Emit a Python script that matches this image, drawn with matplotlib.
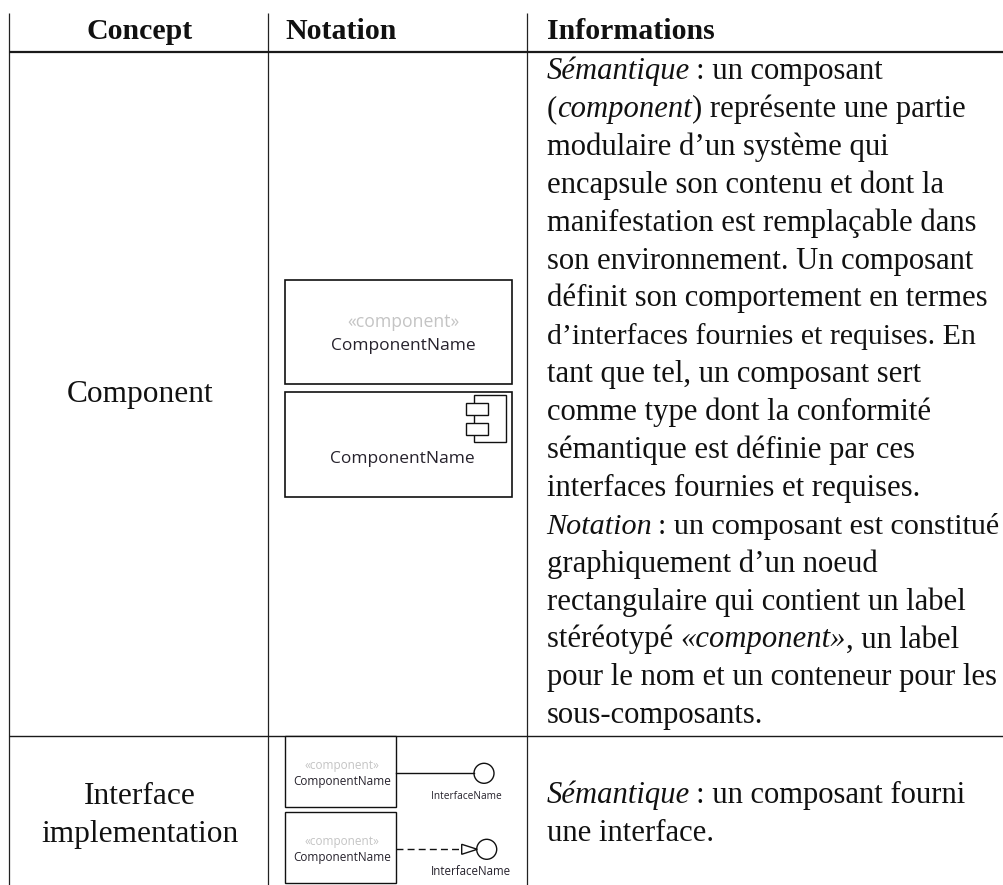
#!/usr/bin/env python3
# Table of UML concepts: concept name, notation sketch, description.

import matplotlib
matplotlib.use("Agg")
import matplotlib.pyplot as plt
from matplotlib.patches import Circle, Polygon, Rectangle

WIDTH = 1004
HEIGHT = 885
SERIF = "Liberation Serif"
SANS = "Open Sans"
BODY_SIZE = 22.1
HEADER_SIZE = 21.5
CONCEPT_SIZE = 22.6
# a few lines run wider than in the original font, so they get a smaller size
LINE_SIZE_FIX = {7: 21.5, 12: 21.7}

# -----------------------------------------------------------------------------
# Table content
# -----------------------------------------------------------------------------

HEADERS = ["Concept", "Notation", "Informations"]
CONCEPTS = ["Component", "Interface", "implementation"]
STEREOTYPE = "«component»"
COMPONENT_NAME = "ComponentName"
INTERFACE_NAME = "InterfaceName"

# each line is a list of (text, is_italic) runs
ROW1_LINES = [
    [("Sémantique", True), ("\u2009: un composant", False)],
    [("(", False), ("component", True), (") représente une partie", False)],
    [("modulaire d’un système qui", False)],
    [("encapsule son contenu et dont la", False)],
    [("manifestation est remplaçable dans", False)],
    [("son environnement. Un composant", False)],
    [("définit son comportement en termes", False)],
    [("d’interfaces fournies et requises. En", False)],
    [("tant que tel, un composant sert", False)],
    [("comme type dont la conformité", False)],
    [("sémantique est définie par ces", False)],
    [("interfaces fournies et requises.", False)],
    [("Notation", True), ("\u2009: un composant est constitué", False)],
    [("graphiquement d’un noeud", False)],
    [("rectangulaire qui contient un label", False)],
    [("stéréotypé ", False), ("«component»", True), (", un label", False)],
    [("pour le nom et un conteneur pour les", False)],
    [("sous-composants.", False)],
]
ROW2_LINES = [
    [("Sémantique", True), ("\u2009: un composant fourni", False)],
    [("une interface.", False)],
]


def draw_runs(ax, fig, x, y, runs, size=BODY_SIZE):
    renderer = fig.canvas.get_renderer()
    for text, is_italic in runs:
        t = ax.text(x, y, text, family=SERIF, fontsize=size, color="#111111",
                    style="italic" if is_italic else "normal", va="baseline", ha="left")
        x += t.get_window_extent(renderer).width


def draw_box(ax, x0, y0, x1, y1, lw=1.2, zorder=2):
    ax.add_patch(Rectangle((x0, y0), x1 - x0, y1 - y0, fill=True, facecolor="white",
                           edgecolor="#111111", linewidth=lw, zorder=zorder))


def draw_component_text(ax, cx, y_st, y_name, size_st, size_name):
    ax.text(cx, y_st, STEREOTYPE, family=SANS, fontsize=size_st, color="#c4c4c4",
            ha="center", va="center", zorder=3)
    ax.text(cx, y_name, COMPONENT_NAME, family=SANS, fontsize=size_name, color="#26222c",
            ha="center", va="center", zorder=3)


def main():
    fig = plt.figure(figsize=(WIDTH / 100, HEIGHT / 100), dpi=100)
    ax = fig.add_axes([0, 0, 1, 1])
    ax.set_xlim(0, WIDTH)
    ax.set_ylim(HEIGHT, 0)
    ax.axis("off")

    # table rules
    for x in [9.5, 268.5, 527]:
        ax.plot([x, x], [13, HEIGHT], color="#222222", lw=0.9, solid_capstyle="butt")
    ax.plot([9, WIDTH], [51.5, 51.5], color="#1a1a1a", lw=1.6, solid_capstyle="butt")
    ax.plot([9, WIDTH], [736, 736], color="#1a1a1a", lw=1.0, solid_capstyle="butt")

    # header
    ax.text(139.5, 38.7, HEADERS[0], family=SERIF, weight="bold", fontsize=HEADER_SIZE,
            ha="center", va="baseline", color="#111111")
    ax.text(285.7, 38.7, HEADERS[1], family=SERIF, weight="bold", fontsize=HEADER_SIZE,
            ha="left", va="baseline", color="#111111")
    ax.text(546.7, 38.7, HEADERS[2], family=SERIF, weight="bold", fontsize=HEADER_SIZE,
            ha="left", va="baseline", color="#111111")

    # first column
    ax.text(139.7, 401.7, CONCEPTS[0], family=SERIF, fontsize=CONCEPT_SIZE, ha="center",
            va="baseline", color="#111111")
    ax.text(139.7, 804, CONCEPTS[1], family=SERIF, fontsize=CONCEPT_SIZE, ha="center",
            va="baseline", color="#111111")
    ax.text(139.7, 841.7, CONCEPTS[2], family=SERIF, fontsize=CONCEPT_SIZE, ha="center",
            va="baseline", color="#111111")

    # third column
    fig.canvas.draw()
    for i, runs in enumerate(ROW1_LINES):
        draw_runs(ax, fig, 546.7, 79 + 37.9 * i, runs, LINE_SIZE_FIX.get(i, BODY_SIZE))
    for i, runs in enumerate(ROW2_LINES):
        draw_runs(ax, fig, 546.7, 803.5 + 37.9 * i, runs)

    # big component boxes
    draw_box(ax, 285.3, 279.7, 512.3, 384.3)
    draw_component_text(ax, 403.5, 322, 346, 12.7, 12.5)
    draw_box(ax, 285.3, 392, 512.3, 497)
    ax.text(402, 459, COMPONENT_NAME, family=SANS, fontsize=12.5, color="#26222c",
            ha="center", va="center", zorder=3)

    # component icon
    draw_box(ax, 474.3, 395.3, 506.3, 442.3, lw=1.0, zorder=3)
    draw_box(ax, 466.3, 402.7, 488.3, 414.7, lw=1.0, zorder=4)
    draw_box(ax, 466.3, 422.7, 488.3, 434.7, lw=1.0, zorder=4)

    # provided interface
    draw_box(ax, 285.3, 736, 396, 807.3, lw=1.0)
    draw_component_text(ax, 342, 765.7, 781.7, 8.5, 8.5)
    ax.plot([396, 474], [773.3, 773.3], color="#111111", lw=1.0)
    ax.add_patch(Circle((484, 773.3), 10, fill=False, edgecolor="#111111", linewidth=1.0))
    ax.text(466, 796.7, INTERFACE_NAME, family=SANS, fontsize=7.3, color="#26222c",
            ha="center", va="center")

    # required interface
    draw_box(ax, 285.3, 812.3, 396, 883.3, lw=1.0)
    draw_component_text(ax, 342, 841.7, 857.3, 8.5, 8.5)
    ax.plot([396, 461.7], [849.3, 849.3], color="#111111", lw=1.0, linestyle=(0, (5, 3)))
    ax.add_patch(Polygon([(461.7, 844.3), (461.7, 854.3), (477.3, 849.3)], closed=True,
                         fill=False, edgecolor="#111111", linewidth=1.0))
    ax.add_patch(Circle((486.7, 849.3), 10, fill=False, edgecolor="#111111", linewidth=1.0))
    ax.text(471, 871.7, INTERFACE_NAME, family=SANS, fontsize=8.3, color="#26222c",
            ha="center", va="center")

    fig.savefig("out.png", dpi=100, facecolor="white")


if __name__ == "__main__":
    main()
